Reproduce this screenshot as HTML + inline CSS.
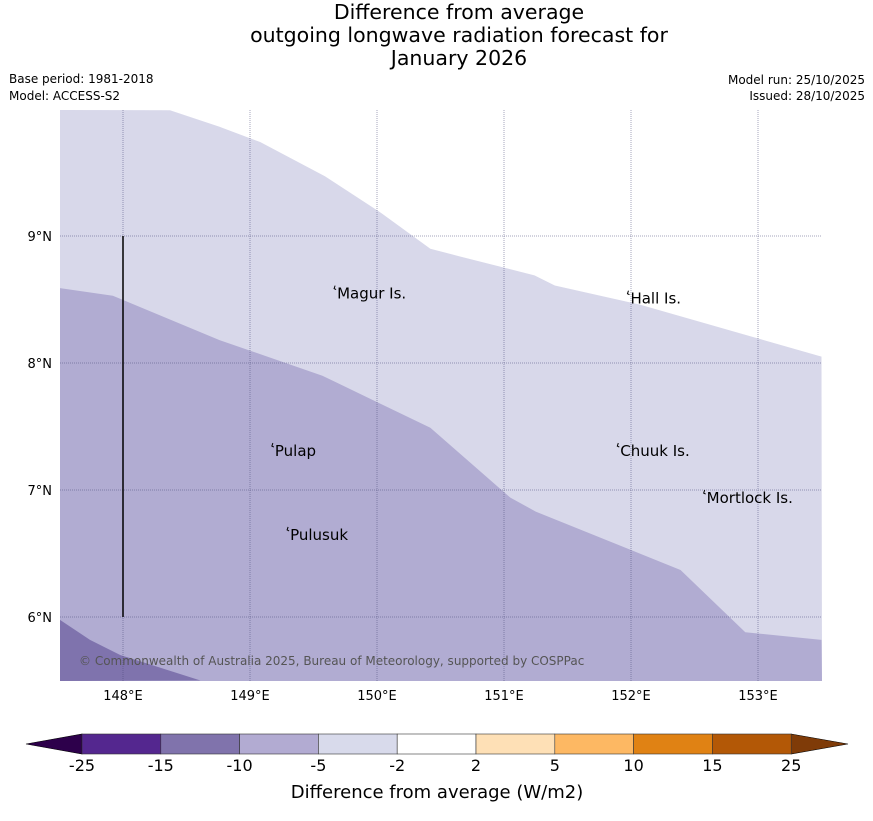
<!DOCTYPE html>
<html><head><meta charset="utf-8"><style>
body{margin:0;background:#fff;width:873px;height:816px;overflow:hidden;font-family:"Liberation Sans","DejaVu Sans",sans-serif}
</style></head><body>
<svg id="s" width="873" height="816" xmlns="http://www.w3.org/2000/svg" font-family="DejaVu Sans, Liberation Sans, sans-serif">
<g font-size="20.5" text-anchor="middle" fill="#000">
<text x="459" y="19">Difference from average</text>
<text x="459" y="42">outgoing longwave radiation forecast for</text>
<text x="459" y="65">January 2026</text>
</g>
<g font-size="12" fill="#000">
<text x="9" y="83">Base period: 1981-2018</text>
<text x="9" y="100">Model: ACCESS-S2</text>
<text x="865" y="84" text-anchor="end">Model run: 25/10/2025</text>
<text x="865" y="100" text-anchor="end">Issued: 28/10/2025</text>
</g>
<g id="map"></g>
<g id="cb"></g>
<text x="437" y="798" font-size="18" text-anchor="middle">Difference from average (W/m2)</text>
</svg>
<script>
const whiteLon=[148.37,148.76,149.08,149.59,150.02,150.42,150.65,151.24,151.40,152.07,153.50];
const whiteLat=[9.99,9.86,9.74,9.47,9.19,8.90,8.84,8.69,8.61,8.46,8.05];
const midLon=[147.50,147.92,148.76,149.57,150.42,151.05,151.25,152.39,152.90,153.50];
const midLat=[8.59,8.53,8.18,7.90,7.49,6.94,6.83,6.37,5.88,5.82];
const darkLon=[147.50,147.74,147.98,148.61];
const darkLat=[5.98,5.82,5.70,5.50];
const lonTicks=[148,149,150,151,152,153];
const latTicks=[9,8,7,6];
const places=["Magur Is.","Hall Is.","Pulap","Chuuk Is.","Mortlock Is.","Pulusuk"];
const placeLon=[149.67,151.98,149.18,151.90,152.58,149.30];
const placeLat=[8.57,8.53,7.33,7.33,6.96,6.67];
const cbBounds=["-25","-15","-10","-5","-2","2","5","10","15","25"];
const cbColors=["#54278f","#8073ac","#b2abd2","#d8daeb","#ffffff","#fee0b6","#fdb863","#e08214","#b35806"];
const NS="http://www.w3.org/2000/svg";
const X0=60,X1=822,Y0=110,Y1=681;
const xs=l=>123+(l-148)*127;
const ys=l=>236-(l-9)*127;
function mk(t,a,p){const e=document.createElementNS(NS,t);for(const k in a)e.setAttribute(k,a[k]);p.appendChild(e);return e;}
const map=document.getElementById('map');
const cp=mk('clipPath',{id:'cp'},map);mk('rect',{x:X0,y:Y0,width:X1-X0,height:Y1-Y0},cp);
const g=mk('g',{'clip-path':'url(#cp)'},map);
let pts=`${X0},${Y0} `+whiteLon.map((l,i)=>xs(l)+','+ys(whiteLat[i])).join(' ')+` ${X1},${Y1} ${X0},${Y1}`;
let e=mk('polygon',{points:pts,fill:'#d8d8ea'},g);

pts=midLon.map((l,i)=>xs(l)+','+ys(midLat[i])).join(' ')+` ${X1},${Y1} ${X0},${Y1}`;
e=mk('polygon',{points:pts,fill:'#b1acd2'},g);

pts=darkLon.map((l,i)=>xs(l)+','+ys(darkLat[i])).join(' ')+` ${X0},${Y1}`;
e=mk('polygon',{points:pts,fill:'#7f73ad'},g);

lonTicks.forEach(l=>{const x=xs(l);
 e=mk('line',{x1:x,x2:x,y1:Y0,y2:Y1,stroke:'#4a4a78','stroke-width':0.5,'stroke-dasharray':'1,1'},map);
 
 e=mk('text',{x:x,y:700,'font-size':13,'text-anchor':'middle'},map);e.textContent=l+'°E';
 });
latTicks.forEach(l=>{const y=ys(l);
 e=mk('line',{x1:X0,x2:X1,y1:y,y2:y,stroke:'#4a4a78','stroke-width':0.5,'stroke-dasharray':'1,1'},map);
 
 e=mk('text',{x:52,y:y+5,'font-size':13,'text-anchor':'end'},map);e.textContent=l+'°N';
 });
e=mk('line',{x1:xs(148),x2:xs(148),y1:ys(9),y2:ys(6),stroke:'#000','stroke-width':1.5},map);

places.forEach((p,i)=>{const x=xs(placeLon[i]),y=ys(placeLat[i]);
 e=mk('path',{d:`M${x},${y-5} l-1,3 l2,1`,stroke:'#000',fill:'none','stroke-width':1},map);
 
 e=mk('text',{x:x+2,y:y+8,'font-size':15},map);e.textContent=p;
 });
e=mk('text',{x:79,y:665,'font-size':12,fill:'#555'},map);e.textContent='© Commonwealth of Australia 2025, Bureau of Meteorology, supported by COSPPac';

const cb=document.getElementById('cb');const cx0=82,cw=78.8,cy=734,ch=20;
e=mk('polygon',{points:`26,744 ${cx0},${cy} ${cx0},${cy+ch}`,fill:'#2d004b',stroke:'#000','stroke-width':0.6},cb);

const cend=cx0+cw*cbColors.length;
e=mk('polygon',{points:`${cend},${cy} 848,744 ${cend},${cy+ch}`,fill:'#7f3b08',stroke:'#000','stroke-width':0.6},cb);

cbColors.forEach((c,i)=>{e=mk('rect',{x:cx0+i*cw,y:cy,width:cw,height:ch,fill:c,stroke:'#333','stroke-width':0.6},cb);
 });
cbBounds.forEach((b,i)=>{e=mk('text',{x:cx0+i*cw,y:771,'font-size':16,'text-anchor':'middle'},cb);e.textContent=b;
 });
</script>
</body></html>
